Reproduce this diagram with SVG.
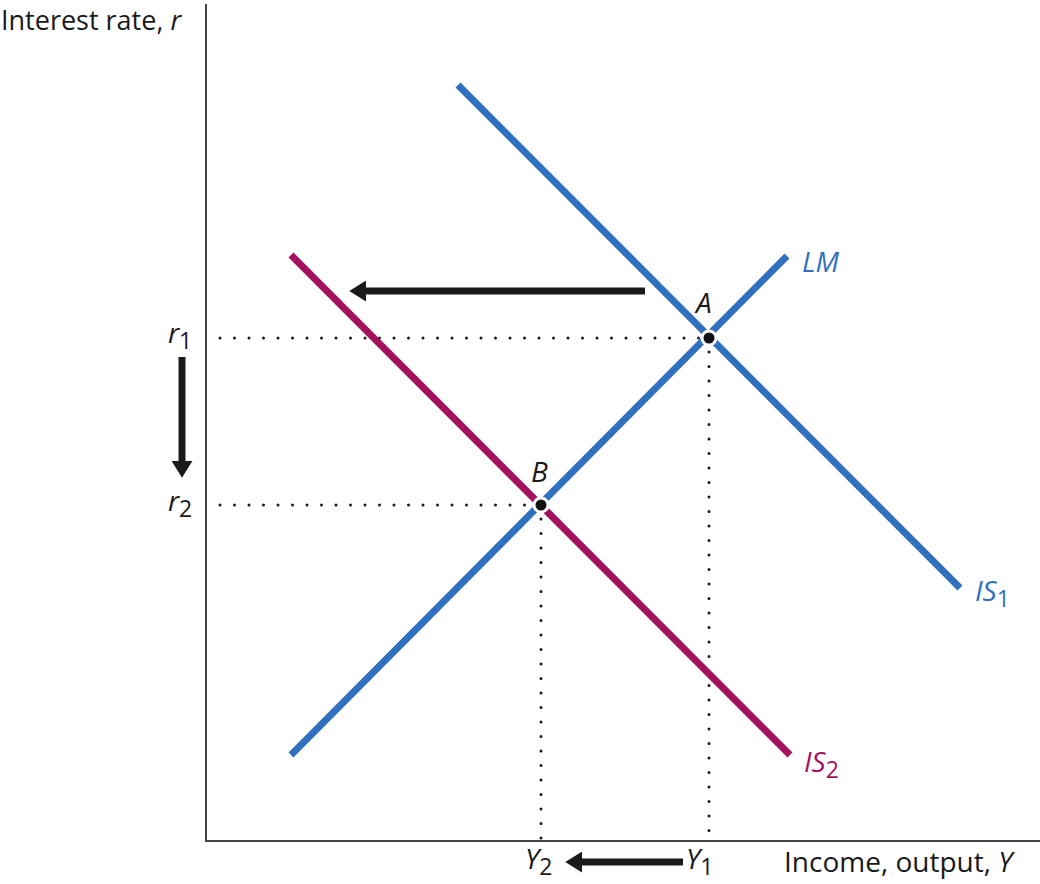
<svg xmlns="http://www.w3.org/2000/svg" width="1040" height="884" viewBox="0 0 1040 884">
<style>
text{font-family:"Open Sans","Liberation Sans",sans-serif;font-size:28px;fill:#1a1a1a}
.it{font-style:italic}
.sub{font-size:23px;font-style:normal}
.blue{stroke:#2f70bf;stroke-width:7;fill:none}
.mag{stroke:#a3125f;stroke-width:7;fill:none}
.dot{stroke:#1a1a1a;stroke-width:3;stroke-dasharray:0 14.5;stroke-linecap:round;fill:none}
.arr{stroke:#1a1a1a;stroke-width:7;fill:none}
.ax{stroke:#444;stroke-width:2;fill:none}
</style>
<defs>
<marker id="ah" markerWidth="2.4" markerHeight="3" refX="0.3" refY="1.5" orient="auto" markerUnits="strokeWidth">
<path d="M0,0 L2.4,1.5 L0,3 Z" fill="#1a1a1a"/>
</marker>
</defs>
<g id="axes">
<path class="ax" d="M206,4 V841 H1040"/>
<text x="1" y="30" style="font-size:27px">Interest rate, <tspan class="it">r</tspan></text>
<text x="784" y="872">Income, output, <tspan class="it">Y</tspan></text>
</g>
<g id="connectors">
<path class="dot" d="M220,338 H709"/>
<path class="dot" d="M220,505 H541"/>
<path class="dot" d="M709,352 V840"/>
<path class="dot" d="M541,519 V840"/>
<path class="arr" d="M645,291 H364" marker-end="url(#ah)"/>
<path class="arr" d="M182,357 V463" marker-end="url(#ah)"/>
<path class="arr" d="M683,862 H580" marker-end="url(#ah)"/>
</g>
<g id="IS2">
<path class="mag" d="M291,255 L790,755"/>
<text class="it" x="804" y="772" style="fill:#a3125f">IS<tspan class="sub" dy="6">2</tspan></text>
</g>
<g id="IS1">
<path class="blue" d="M458,85 L960,588"/>
<text class="it" x="975" y="601" style="fill:#2f70bf">IS<tspan class="sub" dy="6">1</tspan></text>
</g>
<g id="LM">
<path class="blue" d="M291,755 L787,256"/>
<text class="it" x="802" y="272" style="fill:#2f70bf">LM</text>
</g>
<g id="pointA">
<circle cx="709" cy="338" r="8.5" fill="#fff"/>
<circle cx="709" cy="338" r="5.5" fill="#111"/>
<text class="it" x="696" y="313">A</text>
</g>
<g id="pointB">
<circle cx="541" cy="505" r="8.5" fill="#fff"/>
<circle cx="541" cy="505" r="5.5" fill="#111"/>
<text class="it" x="531" y="482">B</text>
</g>
<g id="labels">
<text class="it" x="168" y="343">r<tspan class="sub" dy="6">1</tspan></text>
<text class="it" x="168" y="511">r<tspan class="sub" dy="6">2</tspan></text>
<text class="it" x="525" y="869">Y<tspan class="sub" dy="6">2</tspan></text>
<text class="it" x="686" y="869">Y<tspan class="sub" dy="6">1</tspan></text>
</g>
</svg>
